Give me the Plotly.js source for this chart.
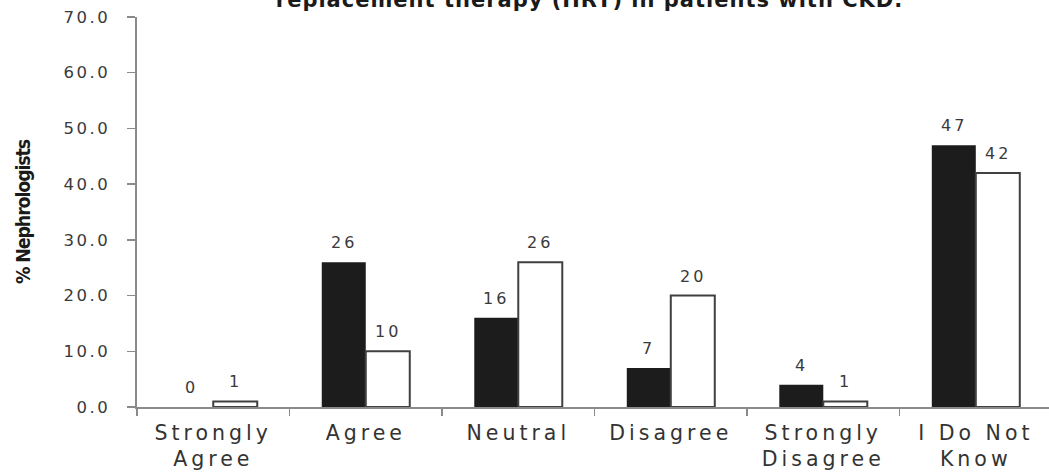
<!DOCTYPE html>
<html>
<head>
<meta charset="utf-8">
<script src="https://cdn.plot.ly/plotly-3.0.1.min.js"></script>
<style>
  html, body { margin: 0; padding: 0; background: #fff; overflow: hidden; }
  #chart { width: 1049px; height: 476px; }
  /* wide, airy lettering for the axis and value labels */
  .xtick text { letter-spacing: 4px; }
  .ytick text { letter-spacing: 2.5px; }
  .annotation-text { letter-spacing: 3px; }
  .g-ytitle text { letter-spacing: -1.2px; }
  .gtitle { letter-spacing: 1px; }
</style>
</head>
<body>
<div id="chart"></div>
<script>
// Survey responses: share of nephrologists per answer, two survey groups
const categories = ["Strongly<br>Agree", "Agree", "Neutral", "Disagree", "Strongly<br>Disagree", "I Do Not<br>Know"];
const groupA = [0, 26, 16, 7, 4, 47];
const groupB = [1, 10, 26, 20, 1, 42];
const yTicks = [0, 10, 20, 30, 40, 50, 60, 70];
const yTickText = yTicks.map(v => v.toFixed(1));

const fontFamily = "DejaVu Sans, Verdana, sans-serif";
const barHalf = 22;           // half a bar's width in pixels, centres each value over its bar
const labelGap = "\u2009\u00a0"; // keeps the y tick labels clear of the tick marks

const traces = [
  {
    type: "bar",
    name: "Group A",
    x: categories,
    y: groupA,
    marker: { color: "#1c1c1c", line: { width: 0 } },
    hoverinfo: "skip"
  },
  {
    type: "bar",
    name: "Group B",
    x: categories,
    y: groupB,
    marker: { color: "#ffffff", line: { color: "#404040", width: 2 } },
    hoverinfo: "skip"
  }
];

// value labels above each bar
const valueLabels = [];
[[groupA, -barHalf], [groupB, barHalf]].forEach(([values, shift]) => {
  values.forEach((v, i) => {
    valueLabels.push({
      x: categories[i],
      y: v,
      xref: "x",
      yref: "y",
      text: String(v),
      showarrow: false,
      xanchor: "center",
      yanchor: "bottom",
      xshift: shift,
      yshift: 8,
      font: { family: fontFamily, size: 16, color: "#3a3a3a" }
    });
  });
});

const layout = {
  width: 1049,
  height: 476,
  margin: { l: 137, r: 0, t: 17, b: 69 },
  paper_bgcolor: "#ffffff",
  plot_bgcolor: "#ffffff",
  showlegend: false,
  barmode: "group",
  bargap: 0.423,
  bargroupgap: 0,
  annotations: valueLabels,
  title: {
    text: "replacement therapy (HRT) in patients with CKD.",
    font: { family: fontFamily, size: 21, color: "#1a1a1a", weight: "bold" },
    x: 0.562,
    xanchor: "center",
    y: 1.0,
    yref: "container",
    yanchor: "middle"
  },
  xaxis: {
    type: "category",
    range: [-0.5, 5.48],
    showline: true,
    linecolor: "#8a8a8a",
    linewidth: 2,
    showgrid: false,
    zeroline: false,
    ticks: "outside",
    tickson: "boundaries",
    ticklen: 7,
    tickwidth: 1.5,
    tickcolor: "#8a8a8a",
    ticklabelstandoff: 6,
    tickfont: { family: fontFamily, size: 20.5, color: "#333333" },
    fixedrange: true
  },
  yaxis: {
    range: [0, 70],
    tickvals: yTicks,
    ticktext: yTickText.map(t => t + labelGap),
    showline: true,
    linecolor: "#8a8a8a",
    linewidth: 2,
    showgrid: false,
    zeroline: false,
    ticks: "outside",
    ticklen: 8,
    tickwidth: 1.5,
    tickcolor: "#8a8a8a",
    tickfont: { family: fontFamily, size: 16.5, color: "#3a3a3a" },
    title: {
      text: "% Nephrologists",
      font: { family: "Liberation Sans Narrow, DejaVu Sans Condensed, Arial Narrow, sans-serif", size: 19.5, color: "#1a1a1a", weight: "bold" },
      standoff: 28
    },
    automargin: false,
    fixedrange: true
  }
};

Plotly.newPlot("chart", traces, layout, { displayModeBar: false, staticPlot: true });
</script>
</body>
</html>
